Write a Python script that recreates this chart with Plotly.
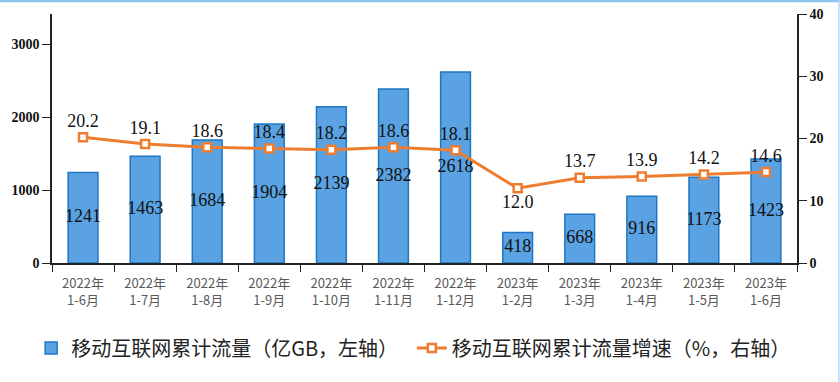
import plotly.graph_objects as go

periods = ["2022年<br>1-6月", "2022年<br>1-7月", "2022年<br>1-8月", "2022年<br>1-9月", "2022年<br>1-10月",
           "2022年<br>1-11月", "2022年<br>1-12月", "2023年<br>1-2月", "2023年<br>1-3月", "2023年<br>1-4月",
           "2023年<br>1-5月", "2023年<br>1-6月"]
traffic = [1241, 1463, 1684, 1904, 2139, 2382, 2618, 418, 668, 916, 1173, 1423]
growth = [20.2, 19.1, 18.6, 18.4, 18.2, 18.6, 18.1, 12.0, 13.7, 13.9, 14.2, 14.6]
growth_pos = ["top center"] * 7 + ["bottom center"] + ["top center"] * 4

serif = "Liberation Serif, Times New Roman, serif"
cjk = "Noto Sans CJK SC, sans-serif"

fig = go.Figure()
fig.add_trace(go.Bar(
    x=periods, y=traffic, name="移动互联网累计流量（亿GB，左轴）",
    marker=dict(color="#5AA2E2", line=dict(color="#1F77C4", width=1.5)),
    width=0.48, yaxis="y", legend="legend",
))
fig.add_trace(go.Scatter(
    x=periods, y=[v / 2 for v in traffic], text=[str(v) for v in traffic],
    mode="text", textposition="middle center", textfont=dict(family=serif, size=18, color="#111111"),
    showlegend=False, hoverinfo="skip", yaxis="y",
))
fig.add_trace(go.Scatter(
    x=periods, y=growth, name="移动互联网累计流量增速（%，右轴）",
    mode="lines+markers+text", text=[f"{v:.1f}" for v in growth], textposition=growth_pos,
    textfont=dict(family=serif, size=18, color="#111111"),
    line=dict(color="#ED7D31", width=3),
    marker=dict(symbol="square", size=8, color="white", line=dict(color="#ED7D31", width=2.5)),
    yaxis="y2", legend="legend2",
))

fig.update_layout(
    width=840, height=382, autosize=False,
    margin=dict(l=52, r=43, t=14, b=119, autoexpand=False),
    plot_bgcolor="white", paper_bgcolor="white",
    xaxis=dict(type="category", range=[-0.5, len(periods) - 0.5], tickson="boundaries",
               ticks="outside", ticklen=7, tickcolor="#222", ticklabelstandoff=8,
               showline=True, linecolor="#222", linewidth=1.5, showgrid=False, automargin=False,
               tickfont=dict(family=cjk, size=13, color="#595959")),
    yaxis=dict(range=[0, 3411], tickvals=[0, 1000, 2000, 3000], ticks="outside", ticklen=8,
               tickcolor="#222", showline=True, linecolor="#222", linewidth=1.5, showgrid=False,
               zeroline=False, automargin=False,
               tickfont=dict(family=serif, size=14, color="#111", weight="bold")),
    yaxis2=dict(range=[0, 40], tickvals=[0, 10, 20, 30, 40], overlaying="y", side="right",
                ticks="outside", ticklen=8, tickcolor="#222", showline=True, linecolor="#222",
                linewidth=1.5, showgrid=False, zeroline=False, automargin=False,
                tickfont=dict(family=serif, size=14, color="#111", weight="bold")),
    legend=dict(x=-0.028, xanchor="left", y=-0.341, yanchor="middle",
                font=dict(family=cjk, size=20, color="#222"), bgcolor="rgba(0,0,0,0)"),
    legend2=dict(x=0.483, xanchor="left", y=-0.341, yanchor="middle",
                 font=dict(family=cjk, size=20, color="#222"), bgcolor="rgba(0,0,0,0)"),
    showlegend=True,
    shapes=[
        dict(type="line", xref="paper", yref="paper", x0=-0.07, x1=1.06, y0=1.052, y1=1.052,
             line=dict(color="#8EC5F0", width=2.5)),
        dict(type="line", xref="paper", yref="paper", x0=1.0562, x1=1.0562, y0=-0.5, y1=1.06,
             line=dict(color="#B8DAF5", width=1.5)),
    ],
)

post = ("document.body.style.margin='0';document.body.style.overflow='hidden';"
        "var gd=document.getElementById('{plot_id}');Plotly.relayout(gd,{width:840,height:382});")
fig.write_html("out.html", config={"responsive": False, "displayModeBar": False}, post_script=post)
